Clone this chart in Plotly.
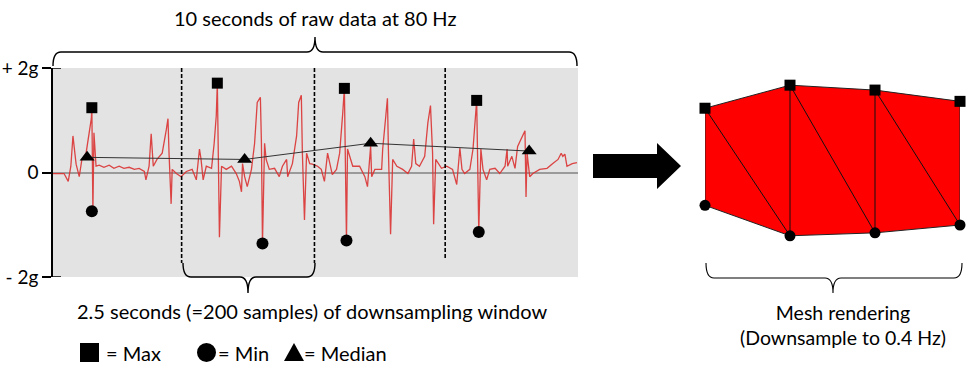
import plotly.graph_objects as go

W, H = 966, 371
FONT = "Lato"

# ---------------- data ----------------
# raw accelerometer trace (seconds, g)
sig_t = [0.00, 0.21, 0.29, 0.34, 0.38, 0.44, 0.50, 0.55, 0.63, 0.69, 0.73, 0.74, 0.76, 0.78, 0.82,
         0.88, 0.97, 1.07, 1.16, 1.26, 1.35, 1.45, 1.55, 1.64, 1.74, 1.77, 1.83, 1.87, 1.91, 1.98,
         2.08, 2.16, 2.19, 2.21, 2.25, 2.27, 2.35, 2.44, 2.54, 2.65, 2.73, 2.79, 2.82, 2.86, 2.92,
         3.02, 3.07, 3.11, 3.13, 3.17, 3.21, 3.30, 3.40, 3.49, 3.55, 3.59, 3.61, 3.65, 3.70, 3.78,
         3.84, 3.89, 3.95, 3.97, 3.99, 4.03, 4.06, 4.12, 4.22, 4.31, 4.37, 4.45, 4.47, 4.56, 4.64,
         4.68, 4.73, 4.75, 4.79, 4.83, 4.89, 4.94, 5.04, 5.11, 5.17, 5.23, 5.29, 5.32, 5.40, 5.46,
         5.52, 5.55, 5.59, 5.61, 5.67, 5.71, 5.84, 5.94, 5.99, 6.05, 6.07, 6.13, 6.26, 6.28, 6.34,
         6.37, 6.39, 6.43, 6.47, 6.55, 6.66, 6.76, 6.83, 6.87, 6.91, 6.98, 7.08, 7.14, 7.19, 7.23,
         7.25, 7.29, 7.40, 7.50, 7.61, 7.69, 7.75, 7.79, 7.84, 7.94, 8.00, 8.05, 8.07, 8.11, 8.15,
         8.19, 8.26, 8.32, 8.42, 8.51, 8.61, 8.65, 8.66, 8.74, 8.80, 8.85, 8.93, 8.99, 9.01, 9.03,
         9.08, 9.14, 9.27, 9.41, 9.52, 9.62, 9.68, 9.71, 9.75, 9.79, 9.89, 9.98]
sig_g = [-0.02, -0.02, -0.17, 0.12, 0.70, 0.16, -0.08, 0.25, 0.37, 0.76, 1.03, 1.24, -0.74, 0.76, 0.12,
         0.14, 0.10, 0.14, 0.08, 0.12, 0.08, 0.10, 0.06, 0.08, 0.02, -0.14, 0.12, 0.74, 0.12, 0.25,
         0.37, 0.83, 1.03, 0.37, -0.60, 0.06, -0.02, -0.08, 0.02, 0.06, -0.14, 0.45, 0.25, -0.14, 0.12,
         0.08, 0.56, 1.09, 1.71, -1.24, 0.12, 0.06, 0.12, -0.02, -0.17, -0.37, 0.17, -0.08, -0.27, 0.06,
         0.56, 1.34, 1.44, 0.56, -1.36, 0.56, 0.25, 0.06, 0.08, -0.08, 0.12, 0.25, -0.08, 0.17, 0.70,
         1.34, 1.48, 0.37, -0.91, 0.37, 0.17, 0.16, 0.12, 0.06, -0.17, 0.37, 0.12, -0.04, 0.06, 0.37,
         1.15, 1.61, -1.30, 0.45, 0.25, 0.12, 0.12, -0.08, -0.27, 0.50, -0.08, 0.06, 0.06, 0.45, 1.09,
         1.42, 0.37, -1.18, 0.25, 0.12, 0.06, -0.02, 0.12, 0.64, 0.17, 0.12, 0.31, 0.95, 1.28, 0.37,
         -0.99, 0.25, 0.08, 0.12, 0.06, -0.23, 0.47, 0.06, -0.02, 0.06, 0.45, 1.15, 1.38, -1.14, 0.45,
         0.06, -0.14, 0.06, 0.08, -0.02, 0.12, 0.45, 0.12, 0.31, 0.08, 0.50, 0.66, 0.80, -0.47, 0.37,
         -0.08, -0.02, 0.06, 0.08, 0.17, 0.25, 0.37, 0.31, 0.35, 0.12, 0.17, 0.19]

window_edges = [2.45, 4.98, 7.47]          # s, downsampling window boundaries
window_edge_bottom = [-1.73, -1.73, -1.64]  # g, where the dashed lines stop

max_t = [0.74, 3.13, 5.55, 8.07]
max_g = [1.24, 1.71, 1.61, 1.38]
min_t = [0.74, 3.99, 5.59, 8.11]
min_g = [-0.74, -1.36, -1.30, -1.14]
med_t = [0.65, 3.65, 6.05, 9.07]
med_g = [0.29, 0.25, 0.56, 0.41]

mesh_idx = [0, 1, 2, 3]                    # downsampled samples (0.4 Hz)

y_tickvals = [2, 0, -2]
y_ticktext = ["+ 2g", "0", "- 2g"]

title_top = "10 seconds of raw data at 80 Hz"
title_window = "2.5 seconds (=200 samples) of downsampling window"
mesh_label = "Mesh rendering<br>(Downsample to 0.4 Hz)"
legend_labels = ["= Max", "= Min", "= Median"]

# ---------------- helpers (pixel -> paper) ----------------
def PX(x):
    return x / W

def PY(y):
    return 1 - y / H

def brace(x0, x1, yend, yline, xtip, ytip, r=8):
    pts = [
        f"M {PX(x0)},{PY(yend)}",
        f"Q {PX(x0)},{PY(yline)} {PX(x0 + r)},{PY(yline)}",
        f"L {PX(xtip - r)},{PY(yline)}",
        f"Q {PX(xtip)},{PY(yline)} {PX(xtip)},{PY(ytip)}",
        f"Q {PX(xtip)},{PY(yline)} {PX(xtip + r)},{PY(yline)}",
        f"L {PX(x1 - r)},{PY(yline)}",
        f"Q {PX(x1)},{PY(yline)} {PX(x1)},{PY(yend)}",
    ]
    return " ".join(pts)

fig = go.Figure()

# ---------------- signal panel ----------------
fig.add_trace(go.Scatter(x=sig_t, y=sig_g, mode="lines",
                         line=dict(color="rgba(218,50,50,0.9)", width=1.3),
                         xaxis="x", yaxis="y", hoverinfo="skip", showlegend=False))

for xe, yb in zip(window_edges, window_edge_bottom):
    fig.add_trace(go.Scatter(x=[xe, xe], y=[2, yb], mode="lines",
                             line=dict(color="black", width=1.6, dash="4px,2px"),
                             xaxis="x", yaxis="y", hoverinfo="skip", showlegend=False))

fig.add_trace(go.Scatter(x=med_t, y=med_g, mode="lines+markers",
                         line=dict(color="#333", width=1),
                         marker=dict(symbol="triangle-up", size=13, color="black"),
                         xaxis="x", yaxis="y", showlegend=False, cliponaxis=False))
fig.add_trace(go.Scatter(x=max_t, y=max_g, mode="markers",
                         marker=dict(symbol="square", size=11, color="black"),
                         xaxis="x", yaxis="y", showlegend=False, cliponaxis=False))
fig.add_trace(go.Scatter(x=min_t, y=min_g, mode="markers",
                         marker=dict(symbol="circle", size=12, color="black"),
                         xaxis="x", yaxis="y", showlegend=False, cliponaxis=False))

# ---------------- mesh ----------------
poly_x = mesh_idx + mesh_idx[::-1] + [mesh_idx[0]]
poly_y = max_g + min_g[::-1] + [max_g[0]]
fig.add_trace(go.Scatter(x=poly_x, y=poly_y, mode="lines", fill="toself",
                         fillcolor="#FF0000", line=dict(color="#222", width=1),
                         xaxis="x2", yaxis="y2", hoverinfo="skip", showlegend=False))
ex, ey = [], []
for i in range(1, len(mesh_idx) - 1):
    ex += [mesh_idx[i], mesh_idx[i], None]
    ey += [max_g[i], min_g[i], None]
for i in range(len(mesh_idx) - 1):
    ex += [mesh_idx[i], mesh_idx[i + 1], None]
    ey += [max_g[i], min_g[i + 1], None]
fig.add_trace(go.Scatter(x=ex, y=ey, mode="lines", line=dict(color="#111", width=1),
                         xaxis="x2", yaxis="y2", hoverinfo="skip", showlegend=False))
fig.add_trace(go.Scatter(x=mesh_idx, y=max_g, mode="markers",
                         marker=dict(symbol="square", size=11, color="black"),
                         xaxis="x2", yaxis="y2", showlegend=False, cliponaxis=False))
fig.add_trace(go.Scatter(x=mesh_idx, y=min_g, mode="markers",
                         marker=dict(symbol="circle", size=11, color="black"),
                         xaxis="x2", yaxis="y2", showlegend=False, cliponaxis=False))

# ---------------- layout ----------------
shapes = [
    dict(type="rect", xref="x domain", yref="y domain", x0=0, x1=1, y0=0, y1=1,
         fillcolor="#e3e3e3", line=dict(width=0), layer="below"),
    dict(type="path", xref="paper", yref="paper", path=brace(53, 577, 66, 52, 315, 37),
         line=dict(color="black", width=1.4)),
    dict(type="path", xref="paper", yref="paper", path=brace(183, 315, 263, 277, 248, 293),
         line=dict(color="black", width=1.4)),
    dict(type="path", xref="paper", yref="paper", path=brace(706, 962, 263, 278, 833, 293),
         line=dict(color="black", width=1.1)),
    dict(type="path", xref="paper", yref="paper",
         path=(f"M {PX(593)},{PY(154)} L {PX(657)},{PY(154)} L {PX(657)},{PY(143)} "
               f"L {PX(681)},{PY(166)} L {PX(657)},{PY(189)} L {PX(657)},{PY(178)} "
               f"L {PX(593)},{PY(178)} Z"),
         fillcolor="black", line=dict(color="black", width=0)),
    dict(type="rect", xref="paper", yref="paper", x0=PX(80), x1=PX(99), y0=PY(362), y1=PY(343),
         fillcolor="black", line=dict(width=0)),
    dict(type="circle", xref="paper", yref="paper", x0=PX(197), x1=PX(216), y0=PY(362), y1=PY(343),
         fillcolor="black", line=dict(width=0)),
    dict(type="path", xref="paper", yref="paper",
         path=f"M {PX(284)},{PY(361)} L {PX(294)},{PY(343)} L {PX(304)},{PY(361)} Z",
         fillcolor="black", line=dict(width=0)),
]
# tick marks at +/-2g cross the axis slightly into the panel
for tv in (y_tickvals[0], y_tickvals[-1]):
    shapes.append(dict(type="line", xref="paper", yref="y", x0=PX(53), x1=PX(61),
                       y0=tv, y1=tv, line=dict(color="black", width=1.5)))

annotations = [
    dict(text=title_top, x=PX(315), y=PY(18), xref="paper", yref="paper",
         showarrow=False, font=dict(size=20), xanchor="center", yanchor="middle"),
    dict(text=title_window, x=PX(312), y=PY(311), xref="paper", yref="paper",
         showarrow=False, font=dict(size=20), xanchor="center", yanchor="middle"),
    dict(text=mesh_label, x=PX(843), y=PY(325), xref="paper", yref="paper",
         showarrow=False, font=dict(size=19.5), xanchor="center", yanchor="middle"),
    dict(text=legend_labels[0], x=PX(104), y=PY(353), xref="paper", yref="paper",
         showarrow=False, font=dict(size=20), xanchor="left", yanchor="middle"),
    dict(text=legend_labels[1], x=PX(216), y=PY(353), xref="paper", yref="paper",
         showarrow=False, font=dict(size=20), xanchor="left", yanchor="middle"),
    dict(text=legend_labels[2], x=PX(302), y=PY(353), xref="paper", yref="paper",
         showarrow=False, font=dict(size=20), xanchor="left", yanchor="middle"),
]

fig.update_layout(
    width=W, height=H,
    margin=dict(l=0, r=0, t=0, b=0, autoexpand=False),
    paper_bgcolor="white", plot_bgcolor="rgba(0,0,0,0)",
    font=dict(family=FONT, color="black", size=18),
    showlegend=False,
    xaxis=dict(domain=[PX(53), PX(578)], range=[0, 10], visible=False, fixedrange=True,
               automargin=False),
    yaxis=dict(domain=[PY(277), PY(68)], range=[-2, 2], showgrid=False,
               zeroline=True, zerolinecolor="#9a9a9a", zerolinewidth=1.6,
               showline=True, linecolor="black", linewidth=1.5,
               ticks="outside", ticklen=9, tickwidth=1.5, tickcolor="black",
               tickvals=y_tickvals, ticktext=y_ticktext, tickfont=dict(size=19),
               fixedrange=True, automargin=False),
    xaxis2=dict(domain=[PX(705), PX(960)], range=[0, 3], visible=False, fixedrange=True,
                automargin=False),
    yaxis2=dict(domain=[PY(277), PY(68)], range=[-2.20, 2.06], visible=False,
                anchor="x2", fixedrange=True, automargin=False),
    shapes=shapes,
    annotations=annotations,
)

fig.write_html("out.html", config={"displayModeBar": False},
               post_script="document.body.style.margin='0';document.body.style.overflow='hidden';")
